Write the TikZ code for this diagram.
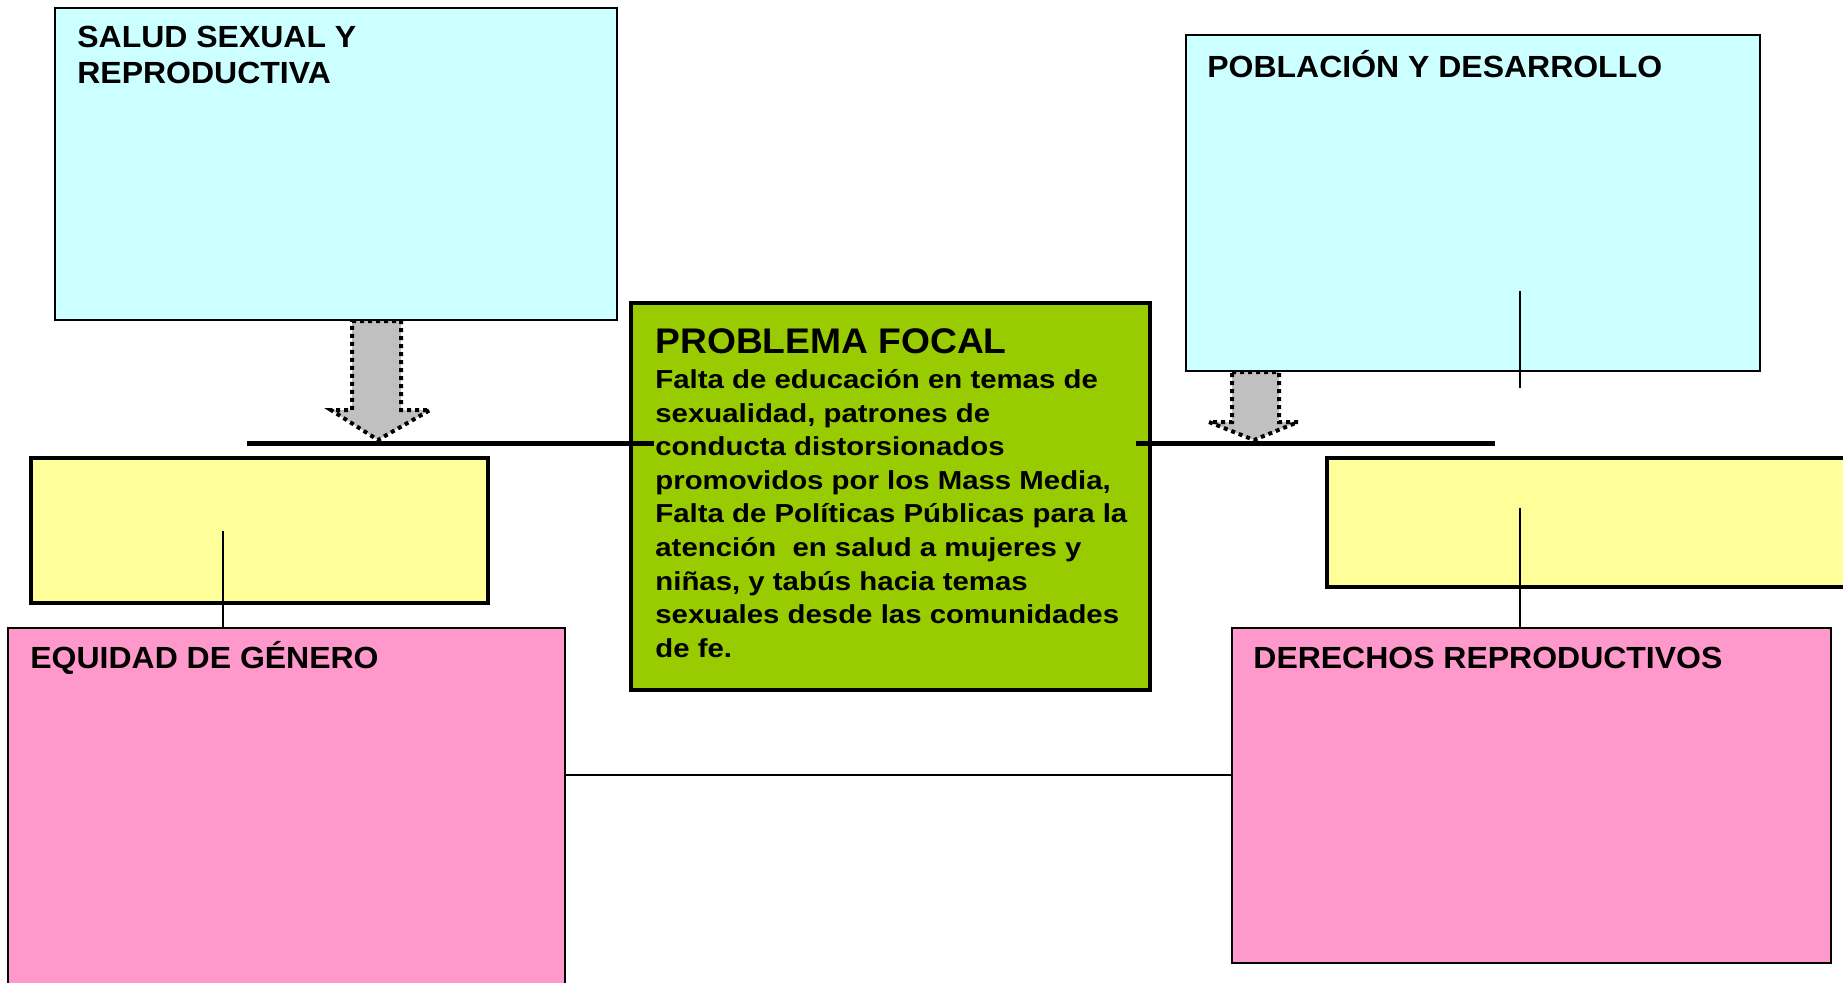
\documentclass[tikz,border=0pt]{standalone}
\usepackage{fontspec}
\setmainfont{Liberation Sans}
\newfontfamily\headfont[FakeStretch=1.045]{Liberation Sans}
\newfontfamily\bodyfont[FakeStretch=1.13]{Liberation Sans}
\usetikzlibrary{positioning}

\definecolor{skyfill}{HTML}{CCFFFF}
\definecolor{lemonfill}{HTML}{FFFF99}
\definecolor{rosefill}{HTML}{FF99CC}
\definecolor{limefill}{HTML}{99CC00}
\definecolor{arrowfill}{HTML}{C0C0C0}

\tikzset{
    box/.style={draw, rectangle, inner sep=0pt},
    skybox/.style={box, fill=skyfill, line width=0.6pt},
    lemonbox/.style={box, fill=lemonfill, line width=1.6pt},
    rosebox/.style={box, fill=rosefill, line width=0.8pt},
    focalbox/.style={box, fill=limefill, line width=2pt},
    heading/.style={inner sep=0pt, anchor=base west, font=\headfont\fontsize{15.3}{18}\selectfont\bfseries},
    blockarrow/.style={fill=arrowfill, draw, line width=2pt, dash pattern=on 2pt off 2pt},
    axis/.style={line width=2.5pt},
    thin/.style={line width=0.6pt}
}

\begin{document}
\begin{tikzpicture}[x=0.5pt, y=-0.5pt]
    \clip (0,0) rectangle (1843,982);
    \fill[white] (0,0) rectangle (1843,982);

    % upper boxes
    \node[skybox, minimum width=281pt, minimum height=156pt] (salud) at (336,164) {};
    \node[skybox, minimum width=287pt, minimum height=168pt] (poblacion) at (1473,203) {};
    \node[heading] (saludA) at (77,47) {SALUD SEXUAL Y};
    \node[heading] (saludB) at (77,83) {REPRODUCTIVA};
    \node[heading] (poblaciontxt) at (1207,77) {POBLACIÓN Y DESARROLLO};

    % yellow boxes
    \node[lemonbox, minimum width=228.5pt, minimum height=72.5pt] (lemonL) at (259.5,530.5) {};
    \node[lemonbox, minimum width=290pt, minimum height=64.5pt] (lemonR) at (1617,522.5) {};

    % pink boxes
    \node[rosebox, minimum width=278.5pt, minimum height=206pt] (equidad) at (286.5,834) {};
    \node[rosebox, minimum width=299.5pt, minimum height=167.5pt] (derechos) at (1531.5,795.5) {};
    \node[heading] (equidadtxt) at (30,668) {EQUIDAD DE GÉNERO};
    \node[heading] (derechostxt) at (1253,668) {DERECHOS REPRODUCTIVOS};

    % thin connectors
    \coordinate (tickL) at (223,531);
    \coordinate (tickR) at (1520,508);
    \coordinate (tickT) at (1520,291);
    \coordinate (tickTe) at (1520,388);
    \draw[thin] (tickL) -- (tickL |- equidad.north);
    \draw[thin] (tickR) -- (tickR |- derechos.north);
    \draw[thin] (tickT) -- (tickTe);
    \draw[thin] (equidad.east |- 0,775) -- (derechos.west |- 0,775);

    % focal problem
    \node[focalbox, minimum width=259.5pt, minimum height=193.5pt] (focal) at (890.5,496.5) {};

    % main axis
    \coordinate (axisL) at (247,443);
    \coordinate (axisR) at (1495,443);
    \draw[axis] (axisL) -- (654,443);
    \draw[axis] (1136,443) -- (axisR);

    \node[heading, font=\headfont\fontsize{17.8}{21}\selectfont\bfseries] (focaltitle) at (655,353) {PROBLEMA FOCAL};
    \node[inner sep=0pt, anchor=north west, align=left,
          font=\bodyfont\fontsize{13}{16.8}\selectfont\bfseries] (focaltxt) at (655,369)
        {Falta de educación en temas de\\
         sexualidad, patrones de\\
         conducta distorsionados\\
         promovidos por los Mass Media,\\
         Falta de Políticas Públicas para la\\
         atención\ \ en salud a mujeres y\\
         niñas, y tabús hacia temas\\
         sexuales desde las comunidades\\
         de fe.};

    % block arrows
    \draw[blockarrow] (352,321) -- (401,321) -- (401,410) -- (430,410) -- (378,440)
        -- (331,410) -- (352,410) -- cycle;
    \draw[blockarrow] (1232,372) -- (1279,372) -- (1279,422) -- (1298,422) -- (1254,440)
        -- (1209,422) -- (1232,422) -- cycle;
\end{tikzpicture}
\end{document}
